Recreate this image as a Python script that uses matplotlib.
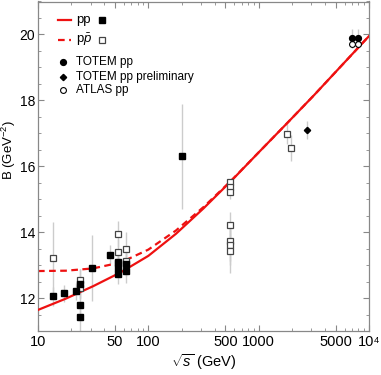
import matplotlib
matplotlib.use("Agg")
import matplotlib.pyplot as plt
from matplotlib.ticker import FixedLocator, NullFormatter, MultipleLocator

plt.rcParams['font.family'] = ['Liberation Sans', 'DejaVu Sans']
plt.rcParams['mathtext.fontset'] = 'custom'
plt.rcParams['mathtext.rm'] = 'Liberation Sans'
plt.rcParams['mathtext.it'] = 'Liberation Sans:italic'

# model curves
curve_rs = [10, 17.8, 31.6, 56.2, 100, 178, 316, 562, 1000, 1778, 3162, 5623, 10000]
curve_pp = [11.64, 11.98, 12.36, 12.78, 13.28, 13.95, 14.72, 15.55, 16.42, 17.28, 18.15, 19.05, 19.95]
curve_ppbar = [12.82, 12.83, 12.90, 13.08, 13.47, 14.05, 14.76, 15.56, 16.42, 17.28, 18.15, 19.05, 19.95]

# pp data (filled squares)
pp_rs = [13.8, 17.1, 22.0, 24, 24, 24, 30.6, 45, 53, 53, 53, 62.5, 62.5, 200]
pp_B = [12.05, 12.14, 12.2, 12.44, 11.79, 11.44, 12.92, 13.32, 13.1, 12.9, 12.72, 13.02, 12.82, 16.3]
pp_err = [0.3, 0.25, 0.25, 0.45, 0.5, 0.45, 1.0, 0.3, 0.3, 0.3, 0.3, 0.35, 0.35, 1.6]

# ppbar data (open squares)
pb_rs = [13.8, 24, 24, 53, 53, 53, 62.5, 62.5, 546, 546, 546, 546, 546, 546, 546, 1800, 1960]
pb_B = [13.22, 12.54, 12.32, 13.95, 13.4, 13.07, 13.49, 13.12,
        15.53, 15.36, 15.21, 14.22, 13.72, 13.6, 13.42, 16.98, 16.55]
pb_err = [1.1, 0.35, 0.35, 0.4, 0.4, 0.4, 0.5, 0.4,
          0.08, 0.2, 0.2, 0.4, 0.6, 0.6, 0.65, 0.3, 0.4]

# TOTEM / ATLAS
totem_rs = [7000, 8000]
totem_B = [19.88, 19.90]
totem_err = [0.28, 0.28]
prelim_rs = [2760]
prelim_B = [17.1]
prelim_err = [0.26]
atlas_rs = [7000, 8000]
atlas_B = [19.72, 19.72]
atlas_err = [0.14, 0.14]

fig = plt.figure(figsize=(3.81, 3.75), dpi=100)
ax = fig.add_axes([0.0997, 0.1173, 0.8688, 0.8787])
ax.set_xscale('log')
ax.set_xlim(10, 10000)
ax.set_ylim(11, 21)

ebar = dict(fmt='none', ecolor='#cccccc', elinewidth=1, zorder=1)
ax.errorbar(pp_rs, pp_B, yerr=pp_err, **ebar)
ax.errorbar(pb_rs, pb_B, yerr=pb_err, **ebar)
ax.errorbar(totem_rs, totem_B, yerr=totem_err, **ebar)
ax.errorbar(prelim_rs, prelim_B, yerr=prelim_err, **ebar)
ax.errorbar(atlas_rs, atlas_B, yerr=atlas_err, **ebar)

ax.plot(curve_rs, curve_ppbar, color='#ee1111', lw=1.6, ls=(0, (3, 2)), zorder=2)
ax.plot(curve_rs, curve_pp, color='#ee1111', lw=1.6, zorder=3)

ax.plot(pb_rs, pb_B, 's', ms=4.2, mfc='white', mec='#444444', mew=0.9, ls='none', zorder=4)
ax.plot(pp_rs, pp_B, 's', ms=4.2, color='black', ls='none', zorder=5)
ax.plot(atlas_rs, atlas_B, 'o', ms=4.2, mfc='white', mec='black', mew=0.8, ls='none', zorder=6)
ax.plot(totem_rs, totem_B, 'o', ms=4.2, color='black', ls='none', zorder=7)
ax.plot(prelim_rs, prelim_B, 'D', ms=3.2, color='black', ls='none', zorder=7)

# axes styling
ax.xaxis.set_major_locator(FixedLocator([10, 50, 100, 500, 1000, 5000, 10000]))
ax.set_xticklabels(['10', '50', '100', '500', '1000', '5000', '10\u2074'])
minors = [m * 10 ** k for k in range(1, 4) for m in range(2, 10) if m != 5]
ax.xaxis.set_minor_locator(FixedLocator(minors))
ax.xaxis.set_minor_formatter(NullFormatter())
ax.yaxis.set_major_locator(MultipleLocator(2))
ax.yaxis.set_minor_locator(MultipleLocator(0.5))
ax.tick_params(which='both', direction='in', top=True, right=True, color='#888888',
               labelsize=10.5, labelcolor='black', pad=3)
ax.tick_params(axis='y', labelsize=10, pad=2)
ax.tick_params(which='major', length=4, width=0.8)
ax.tick_params(which='minor', length=2, width=0.6)
for s in ax.spines.values():
    s.set_color('#888888')
    s.set_linewidth(0.9)

ax.set_xlabel(r'$\sqrt{s}$ (GeV)', fontsize=10.5, labelpad=2)
ax.set_ylabel(r'B (GeV$^{-2}$)', fontsize=9.5)
ax.yaxis.set_label_coords(-0.061, 0.55)

# legend
tf = ax.transAxes
ax.plot([0.060, 0.100], [0.944, 0.944], color='#ee1111', lw=1.6, transform=tf)
ax.text(0.115, 0.944, 'pp', fontsize=9.5, va='center', transform=tf)
ax.plot([0.193], [0.944], 's', ms=4.2, color='black', transform=tf)
ax.plot([0.060, 0.100], [0.883, 0.883], color='#ee1111', lw=1.6, ls=(0, (3, 2)), transform=tf)
ax.text(0.115, 0.883, r'p$\bar{p}$', fontsize=9.5, va='center', transform=tf)
ax.plot([0.193], [0.883], 's', ms=4.2, mfc='white', mec='#444444', mew=0.9, transform=tf)
ax.plot([0.0755], [0.816], 'o', ms=4.2, color='black', transform=tf)
ax.text(0.115, 0.816, 'TOTEM pp', fontsize=8.5, va='center', transform=tf)
ax.plot([0.0755], [0.771], 'D', ms=3.2, color='black', transform=tf)
ax.text(0.115, 0.771, 'TOTEM pp preliminary', fontsize=8.5, va='center', transform=tf)
ax.plot([0.0755], [0.731], 'o', ms=4.2, mfc='white', mec='black', mew=0.8, transform=tf)
ax.text(0.115, 0.731, 'ATLAS pp', fontsize=8.5, va='center', transform=tf)

fig.savefig('out.png', dpi=100)
